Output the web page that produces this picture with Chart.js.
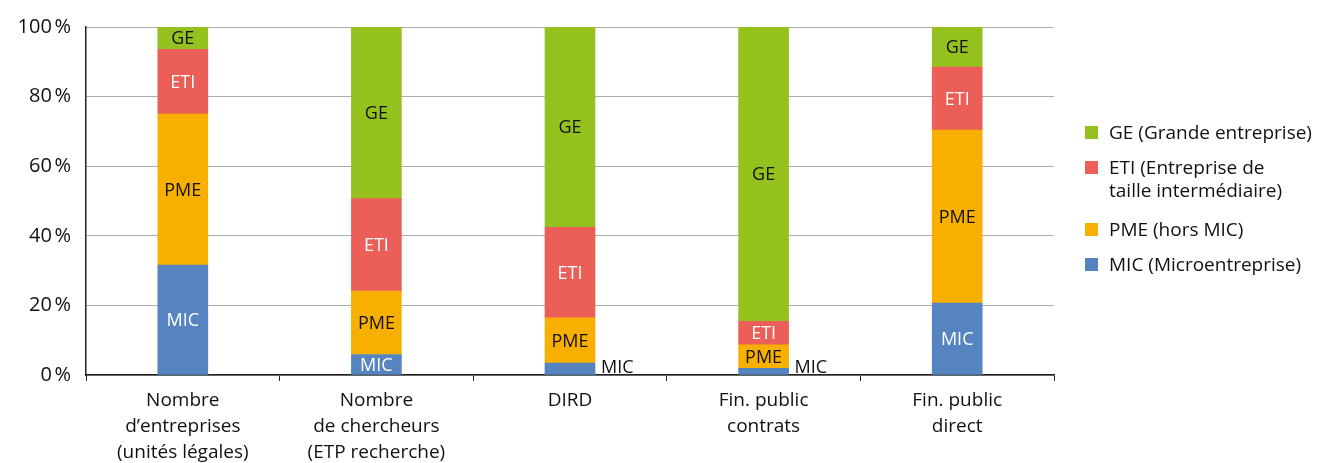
<!DOCTYPE html>
<html>
<head>
<meta charset="utf-8">
<script src="https://cdn.jsdelivr.net/npm/chart.js@4"></script>
<style>
  body { margin: 0; background: #fff; }
  #wrap { position: relative; width: 1336px; height: 463px; }
  #legend { position: absolute; left: 1085px; top: 121px; font-family: "Open Sans", sans-serif; font-size: 19px; color: #111; line-height: 23px; }
  #legend .item { display: flex; align-items: flex-start; margin-bottom: 12px; }
  #legend .item.wide { margin-bottom: 16px; }
  #legend .box { width: 13px; height: 13px; margin-top: 5px; margin-right: 11px; flex: none; }
</style>
</head>
<body>
<div id="wrap">
  <canvas id="chart" width="1336" height="463"></canvas>
  <div id="legend"></div>
</div>
<script>
const categories = [
  ['Nombre', 'd\u2019entreprises', '(unités légales)'],
  ['Nombre', 'de chercheurs', '(ETP recherche)'],
  'DIRD',
  ['Fin. public', 'contrats'],
  ['Fin. public', 'direct']
];
const micValues = [31.6, 5.9, 3.4, 1.9, 20.7];
const pmeValues = [43.4, 18.2, 13.0, 6.8, 49.7];
const etiValues = [18.6, 26.6, 26.0, 6.7, 18.1];
const geValues = [6.4, 49.3, 57.6, 84.6, 11.5];
const yTicks = [0, 20, 40, 60, 80, 100];

const FONT = '"Open Sans", sans-serif';

// short label inside the bar + long text for the legend
const series = [
  { short: 'MIC', legend: 'MIC (Microentreprise)', data: micValues, color: '#5584c0', text: '#fff' },
  { short: 'PME', legend: 'PME (hors MIC)', data: pmeValues, color: '#f8b000', text: '#111' },
  { short: 'ETI', legend: 'ETI (Entreprise de<br>taille intermédiaire)', data: etiValues, color: '#ec5f59', text: '#fff' },
  { short: 'GE', legend: 'GE (Grande entreprise)', data: geValues, color: '#95c11f', text: '#111' }
];

// labels on the segments, small ones go to the right of the bar
const segmentLabels = {
  id: 'segmentLabels',
  afterDatasetsDraw(chart) {
    const ctx = chart.ctx;
    ctx.save();
    ctx.font = '18px ' + FONT;
    chart.data.datasets.forEach((ds, i) => {
      chart.getDatasetMeta(i).data.forEach((bar, j) => {
        const h = Math.abs(bar.base - bar.y);
        if (h >= 18) {
          ctx.fillStyle = series[i].text;
          ctx.textAlign = 'center';
          ctx.textBaseline = 'middle';
          ctx.fillText(series[i].short, bar.x, (bar.y + bar.base) / 2 + 1);
        } else {
          ctx.fillStyle = '#111';
          ctx.textAlign = 'left';
          ctx.textBaseline = 'bottom';
          ctx.fillText(series[i].short, bar.x + bar.width / 2 + 6, bar.base + 2);
        }
      });
    });
    ctx.restore();
  }
};

new Chart(document.getElementById('chart'), {
  type: 'bar',
  data: {
    labels: categories,
    datasets: series.map(s => ({
      label: s.short,
      data: s.data,
      backgroundColor: s.color,
      barThickness: 50
    }))
  },
  options: {
    responsive: false,
    animation: false,
    layout: { padding: { top: 25, right: 282, left: 0, bottom: 0 } },
    plugins: { legend: { display: false }, tooltip: { enabled: false } },
    scales: {
      x: {
        stacked: true,
        afterFit(scale) { scale.height = 88; },
        grid: { offset: true, drawOnChartArea: false, color: '#222', tickLength: 6 },
        border: { color: '#222', width: 1.5 },
        ticks: { color: '#111', font: { family: FONT, size: 19, lineHeight: 1.37 }, padding: 7, maxRotation: 0 }
      },
      y: {
        stacked: true,
        min: 0,
        max: 100,
        afterFit(scale) { scale.width = 86; },
        afterBuildTicks(scale) { scale.ticks = yTicks.map(v => ({ value: v })); },
        grid: { color: '#ababab', drawTicks: false },
        border: { color: '#222', width: 1.5 },
        ticks: { color: '#111', font: { family: FONT, size: 20 }, padding: 15, callback: v => v + '\u202f%' }
      }
    }
  },
  plugins: [segmentLabels]
});

// HTML legend, GE first like the reference
const legend = document.getElementById('legend');
series.slice().reverse().forEach(s => {
  const item = document.createElement('div');
  item.className = s.short === 'ETI' ? 'item wide' : 'item';
  item.innerHTML = '<span class="box" style="background:' + s.color + '"></span><span>' + s.legend + '</span>';
  legend.appendChild(item);
});
</script>
</body>
</html>
